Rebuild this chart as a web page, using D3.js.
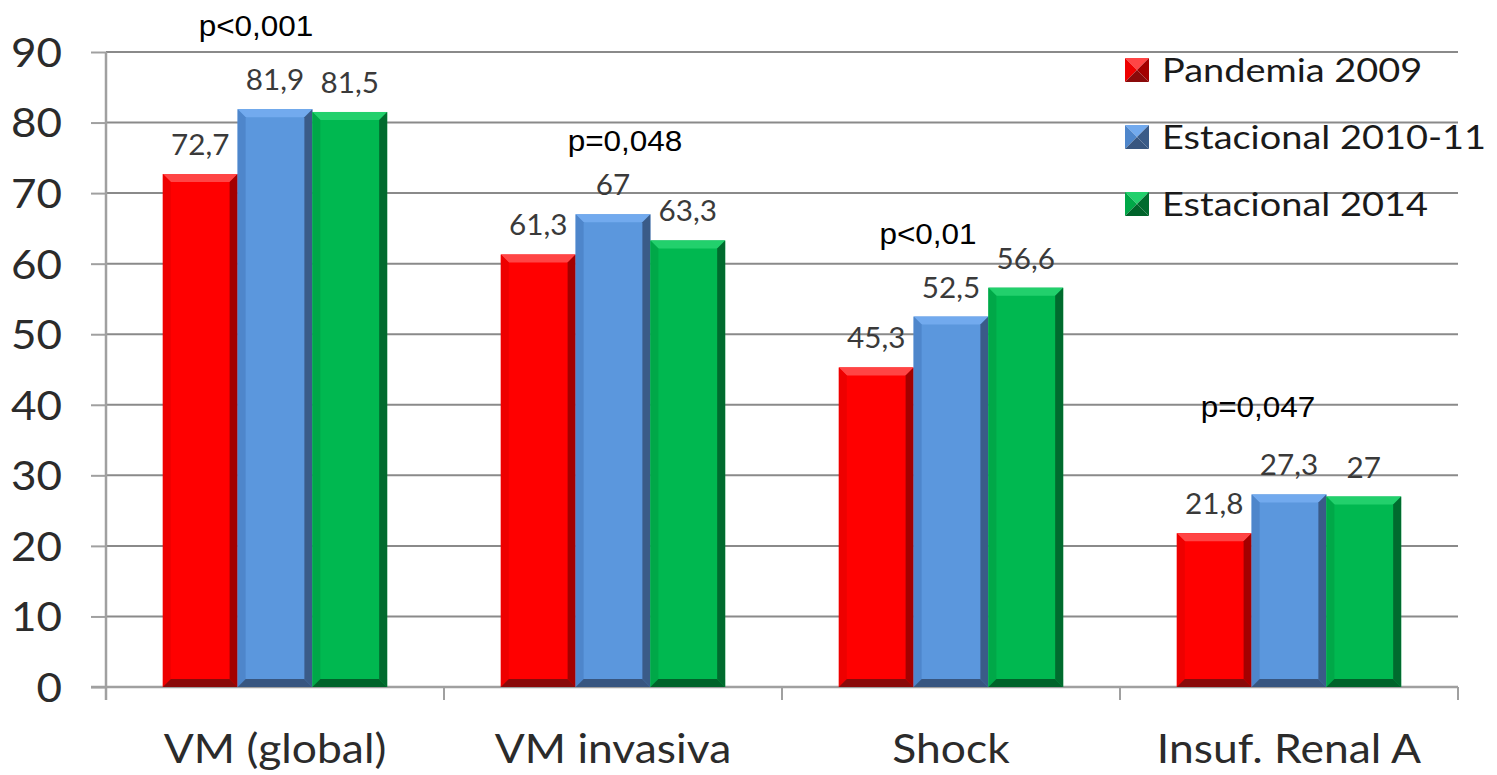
<!DOCTYPE html>
<html>
<head>
<meta charset="utf-8">
<script src="https://cdn.jsdelivr.net/npm/d3@7"></script>
<style>
  html, body { margin: 0; padding: 0; background: #fff; }
  svg { display: block; }
</style>
</head>
<body>
<svg id="chart" width="1497" height="775"></svg>
<script>
// ---- data ----
const categories = ["VM (global)", "VM invasiva", "Shock", "Insuf. Renal A"];
const seriesNames = ["Pandemia 2009", "Estacional 2010-11", "Estacional 2014"];
const pandemia2009 = [72.7, 61.3, 45.3, 21.8];
const estacional201011 = [81.9, 67, 52.5, 27.3];
const estacional2014 = [81.5, 63.3, 56.6, 27];
const pValues = ["p<0,001", "p=0,048", "p<0,01", "p=0,047"];
const yTicks = [0, 10, 20, 30, 40, 50, 60, 70, 80, 90];

const seriesValues = [pandemia2009, estacional201011, estacional2014];

// ---- styling ----
const palette = [
  { main: "#FF0000", top: "#FF4545", left: "#EE0000", right: "#A30000", bottom: "#8A0A0A" },
  { main: "#5B97DD", top: "#72AAEE", left: "#4E86CB", right: "#3A5B88", bottom: "#385680" },
  { main: "#00B850", top: "#22D06C", left: "#00A848", right: "#006B2E", bottom: "#00632A" }
];
const pOffsets = [ // annotation placement relative to group centre (px) and value height
  { dx: -19, v: 92.3 }, { dx: 12, v: 76.0 }, { dx: -23, v: 62.8 }, { dx: -31, v: 38.3 }
];

const svg = d3.select("#chart");
const pL = 106, pR = 1458, pT = 52, pB = 687;

// horizontally stretch text around its anchor point
function stretch(sel, k) {
  sel.each(function() {
    const t = d3.select(this);
    const tx = +t.attr("x") || 0, ty = +t.attr("y") || 0;
    const prev = t.attr("transform") || "";
    t.attr("x", 0).attr("y", 0).attr("transform", `${prev} translate(${tx},${ty}) scale(${k},1)`);
  });
}

const y = d3.scaleLinear().domain([0, 90]).range([pB, pT]);
const x = d3.scaleBand().domain(categories).range([pL, pR]).paddingInner(0).paddingOuter(0);
const xs = d3.scaleBand().domain(seriesNames).range([0, x.bandwidth()]).paddingInner(0).paddingOuter(0.76);

// gridlines
svg.append("g").selectAll("line").data(yTicks.filter(d => d > 0)).join("line")
  .attr("x1", pL).attr("x2", pR)
  .attr("y1", d => y(d)).attr("y2", d => y(d))
  .attr("stroke", "#8a8a8a").attr("stroke-width", 2);

// y axis
const yAxis = d3.axisLeft(y).tickValues(yTicks).tickSize(15).tickPadding(29).tickFormat(d3.format("d"));
const gy = svg.append("g").attr("transform", `translate(${pL},0)`).call(yAxis);
gy.select(".domain").attr("stroke", "#a0a0a0").attr("stroke-width", 2.5).attr("d", `M0,${pB + 13}V${pT}`);
gy.selectAll(".tick line").attr("stroke", "#a0a0a0").attr("stroke-width", 2);
gy.selectAll(".tick text").attr("font-family", "Lato").attr("font-size", 40).attr("fill", "#2b2b2b").attr("dy", "0.36em")
  .call(stretch, 1.1);

// x axis
const gx = svg.append("g");
gx.append("line").attr("x1", pL - 15).attr("x2", pR).attr("y1", pB).attr("y2", pB)
  .attr("stroke", "#a0a0a0").attr("stroke-width", 2.5);
const bounds = categories.map(c => x(c)).concat([x(categories[categories.length - 1]) + x.bandwidth()]);
gx.selectAll("line.tk").data(bounds).join("line").attr("class", "tk")
  .attr("x1", d => d).attr("x2", d => d).attr("y1", pB).attr("y2", pB + 13)
  .attr("stroke", "#a0a0a0").attr("stroke-width", 2);
gx.selectAll("text").data(categories).join("text")
  .attr("x", d => x(d) + x.bandwidth() / 2).attr("y", 763)
  .attr("text-anchor", "middle").attr("font-family", "Lato").attr("font-size", 40).attr("fill", "#2b2b2b")
  .text(d => d)
  .call(stretch, 1.11);

// bars with bevel
const bev = 8;
const barData = [];
categories.forEach((c, i) => {
  seriesNames.forEach((s, j) => {
    barData.push({ c, s, j, v: seriesValues[j][i] });
  });
});
const bars = svg.append("g").selectAll("g").data(barData).join("g");
bars.each(function(d) {
  const g = d3.select(this);
  const x0 = x(d.c) + xs(d.s), x1 = x0 + xs.bandwidth();
  const y0 = y(d.v), y1 = y(0);
  const col = palette[d.j];
  g.append("rect").attr("x", x0).attr("y", y0).attr("width", x1 - x0).attr("height", y1 - y0).attr("fill", col.main);
  const poly = (pts, fill) => g.append("polygon").attr("points", pts.map(p => p.join(",")).join(" ")).attr("fill", fill);
  poly([[x0, y0], [x1, y0], [x1 - bev, y0 + bev], [x0 + bev, y0 + bev]], col.top);
  poly([[x0, y0], [x0 + bev, y0 + bev], [x0 + bev, y1 - bev], [x0, y1]], col.left);
  poly([[x1, y0], [x1, y1], [x1 - bev, y1 - bev], [x1 - bev, y0 + bev]], col.right);
  poly([[x0, y1], [x0 + bev, y1 - bev], [x1 - bev, y1 - bev], [x1, y1]], col.bottom);
});

// data labels
svg.append("g").selectAll("text").data(barData).join("text")
  .attr("x", d => x(d.c) + xs(d.s) + xs.bandwidth() / 2)
  .attr("y", d => y(d.v) - 19)
  .attr("text-anchor", "middle").attr("font-family", "Lato").attr("font-size", 28).attr("fill", "#3a3a3a")
  .text(d => String(d.v).replace(".", ","))
  .call(stretch, 1.06);

// p-value annotations
svg.append("g").selectAll("text").data(pValues).join("text")
  .attr("x", (d, i) => x(categories[i]) + x.bandwidth() / 2 + pOffsets[i].dx)
  .attr("y", (d, i) => y(pOffsets[i].v))
  .attr("text-anchor", "middle").attr("font-family", "Liberation Sans").attr("font-size", 30).attr("fill", "#000")
  .text(d => d)
  .call(stretch, 1.05);

// legend
const lg = svg.append("g").selectAll("g").data(seriesNames).join("g")
  .attr("transform", (d, i) => `translate(1125,${70 + i * 67})`);
lg.each(function(d, i) {
  const g = d3.select(this);
  const s = 24, h = s / 2, col = palette[i];
  const tri = (pts, fill) => g.append("polygon").attr("points", pts.map(p => p.join(",")).join(" ")).attr("fill", fill);
  tri([[0, -h], [s, -h], [h, 0]], col.top);
  tri([[0, -h], [h, 0], [0, h]], col.left);
  tri([[s, -h], [s, h], [h, 0]], col.right);
  tri([[0, h], [h, 0], [s, h]], col.bottom);
});
lg.append("text").attr("x", 37).attr("y", 0).attr("dy", "0.36em")
  .attr("font-family", "Lato").attr("font-size", 33).attr("fill", "#1a1a1a")
  .text(d => d)
  .call(stretch, 1.15);
</script>
</body>
</html>
